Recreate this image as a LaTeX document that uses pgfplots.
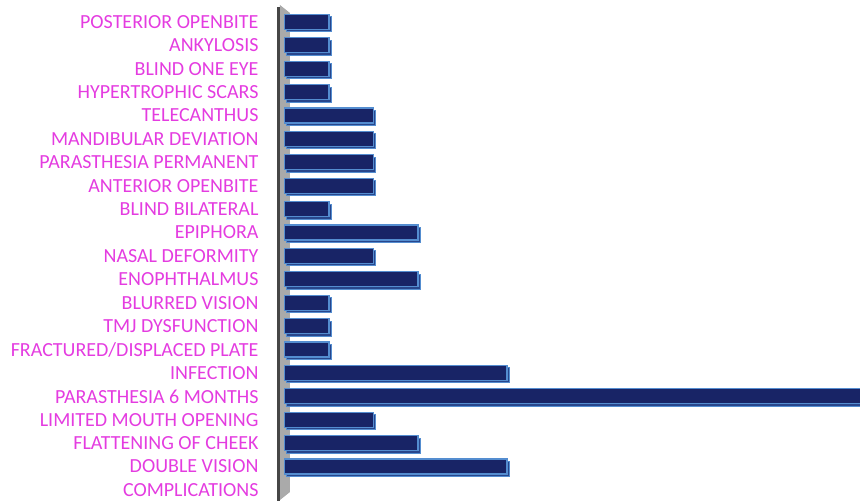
\documentclass[border=0pt]{standalone}
\usepackage{pgfplots}
\pgfplotsset{compat=1.18}
\usepackage{fontspec}
\setmainfont{Carlito}
\definecolor{labelmag}{RGB}{228,60,224}
\definecolor{barnavy}{RGB}{24,36,102}
\definecolor{barblue}{RGB}{84,141,208}
\definecolor{barside}{RGB}{40,70,140}
\definecolor{wallgray}{RGB}{170,170,170}
\definecolor{walldark}{RGB}{70,70,70}
\begin{document}
\begin{tikzpicture}
\begin{axis}[
  name=ax,
  scale only axis,
  width=580pt, height=495pt,
  xmin=-0.1, xmax=12.93,
  ymin=-0.72, ymax=20.43,
  y dir=reverse,
  axis x line=none,
  axis y line*=left,
  y axis line style={draw=none},
  ytick={0,...,20},
  yticklabels={POSTERIOR OPENBITE,ANKYLOSIS,BLIND ONE EYE,HYPERTROPHIC SCARS,TELECANTHUS,MANDIBULAR DEVIATION,PARASTHESIA PERMANENT,ANTERIOR OPENBITE,BLIND BILATERAL,EPIPHORA,NASAL DEFORMITY,ENOPHTHALMUS,BLURRED VISION,TMJ DYSFUNCTION,FRACTURED/DISPLACED PLATE,INFECTION,PARASTHESIA 6 MONTHS,LIMITED MOUTH OPENING,FLATTENING OF CHEEK,DOUBLE VISION,COMPLICATIONS},
  major tick length=0pt,
  yticklabel style={font=\fontsize{20}{20}\selectfont, text=labelmag, xshift=-18pt},
]
\fill[wallgray] (axis description cs:0,1) -- ([xshift=10pt,yshift=-8pt]axis description cs:0,1) -- ([xshift=10pt,yshift=8pt]axis description cs:0,0) -- (axis description cs:0,0) -- cycle;
\addplot[xbar, bar width=15pt, fill=barnavy, draw=barblue, line width=1.3pt,
  preaction={fill=barside, draw=barblue, line width=1pt, transform canvas={xshift=2.5pt,yshift=-2.5pt}}]
coordinates {
(1,0) (1,1) (1,2) (1,3) (2,4) (2,5) (2,6) (2,7) (1,8) (3,9) (2,10) (3,11)
(1,12) (1,13) (1,14) (5,15) (13,16) (2,17) (3,18) (5,19)
};
\end{axis}
\draw[line width=3pt, walldark] ([xshift=-1.5pt,yshift=-1pt]ax.south west) -- ([xshift=-1.5pt,yshift=-2pt]ax.north west);
\useasboundingbox ([xshift=-280pt,yshift=-1pt]ax.south west) rectangle ([yshift=5pt]ax.north east);
\end{tikzpicture}
\end{document}
